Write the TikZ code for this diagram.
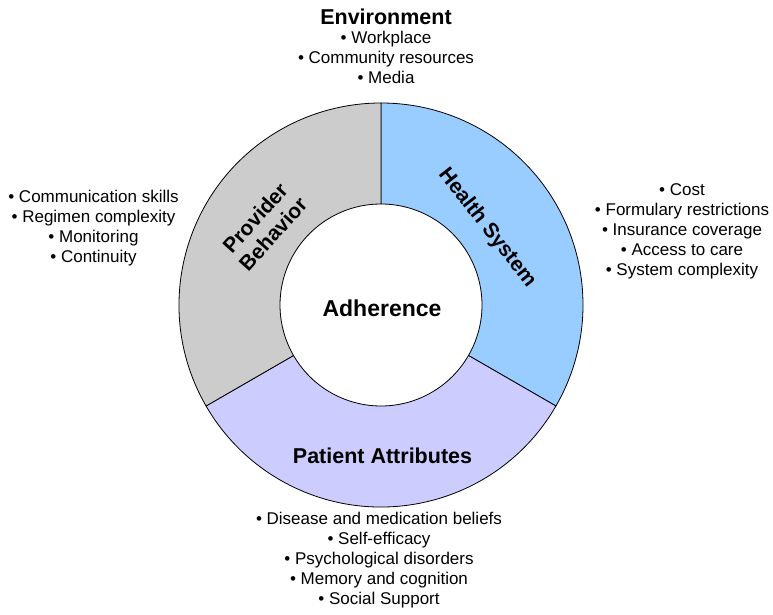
\documentclass[tikz,border=0pt]{standalone}
\usepackage{fontspec}
\setmainfont{Liberation Sans}
\definecolor{hsblue}{HTML}{99CCFF}
\definecolor{palav}{HTML}{CCCCFF}
\definecolor{pbgray}{HTML}{CCCCCC}
\begin{document}
\begin{tikzpicture}[x=1pt,y=1pt,
  ringpart/.style={draw=black,line width=0.8pt,line join=round},
  title/.style={font=\fontsize{21.5}{23}\selectfont\bfseries,inner sep=0pt},
  seglabel/.style={font=\fontsize{21}{24}\selectfont\bfseries,inner sep=0pt,align=center},
  items/.style={font=\fontsize{17}{20}\selectfont,align=center,inner sep=0pt}]
\useasboundingbox (0,0) rectangle (773,614);
\def\Ro{202}
\def\Ri{101}
\coordinate (c) at (381,309);
% Health System sector
\path[ringpart,fill=hsblue] ([shift={(90:\Ro)}]c) arc[start angle=90,end angle=-30,radius=\Ro]
  -- ([shift={(-30:\Ri)}]c) arc[start angle=-30,end angle=90,radius=\Ri] -- cycle;
% Patient Attributes sector
\path[ringpart,fill=palav] ([shift={(-30:\Ro)}]c) arc[start angle=-30,end angle=-150,radius=\Ro]
  -- ([shift={(-150:\Ri)}]c) arc[start angle=-150,end angle=-30,radius=\Ri] -- cycle;
% Provider Behavior sector
\path[ringpart,fill=pbgray] ([shift={(210:\Ro)}]c) arc[start angle=210,end angle=90,radius=\Ro]
  -- ([shift={(90:\Ri)}]c) arc[start angle=90,end angle=210,radius=\Ri] -- cycle;

\node[title,font=\fontsize{23}{25}\selectfont\bfseries,anchor=base] (adh) at (382,298) {Adherence};
\node[seglabel,rotate=-52] (hs) at (487,386) {Health System};
\node[seglabel,rotate=48] (pb) at (264,388) {Provider\\Behavior};
\node[title,anchor=base] (pa) at (382.5,151) {Patient Attributes};

\node[title,anchor=base] (env) at (386,589) {Environment};
\node[items,anchor=north] (envl) at (386,583) {• Workplace\\• Community resources\\• Media};
\node[items,anchor=north] (pbl) at (93.5,424.4) {• Communication skills\\• Regimen complexity\\• Monitoring\\• Continuity};
\node[items,anchor=north] (hsl) at (682,430.4) {• Cost\\• Formulary restrictions\\• Insurance coverage\\• Access to care\\• System complexity};
\node[items,anchor=north] (pal) at (379,102.4) {• Disease and medication beliefs\\• Self-efficacy\\• Psychological disorders\\• Memory and cognition\\• Social Support};
\end{tikzpicture}
\end{document}
